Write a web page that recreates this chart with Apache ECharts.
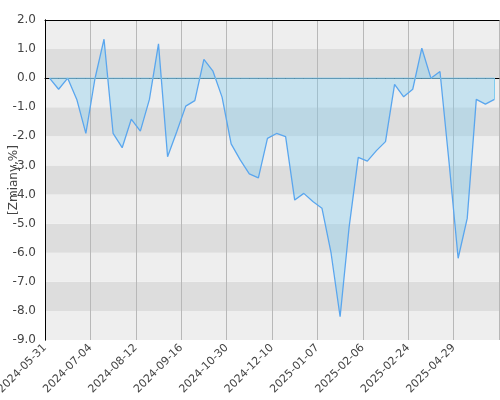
<!DOCTYPE html>
<html>
<head>
<meta charset="utf-8">
<script src="https://cdn.jsdelivr.net/npm/echarts@6/dist/echarts.min.js"></script>
<style>
  html, body { margin: 0; padding: 0; background: #fff; }
  #chart { width: 500px; height: 400px; }
</style>
</head>
<body>
<div id="chart"></div>
<script>
// daty notowań (oś X)
var dates = [
  '2024-05-31', '2024-06-07', '2024-06-14', '2024-06-21', '2024-06-28',
  '2024-07-04', '2024-07-12', '2024-07-19', '2024-07-26', '2024-08-02',
  '2024-08-12', '2024-08-19', '2024-08-26', '2024-09-02', '2024-09-09',
  '2024-09-16', '2024-09-23', '2024-09-30', '2024-10-14', '2024-10-21',
  '2024-10-30', '2024-11-08', '2024-11-15', '2024-11-22', '2024-11-29',
  '2024-12-10', '2024-12-13', '2024-12-20', '2024-12-27', '2025-01-03',
  '2025-01-07', '2025-01-10', '2025-01-17', '2025-01-24', '2025-01-31',
  '2025-02-06', '2025-02-10', '2025-02-13', '2025-02-17', '2025-02-20',
  '2025-02-24', '2025-03-07', '2025-03-21', '2025-04-04', '2025-04-18',
  '2025-04-29', '2025-05-09', '2025-05-16', '2025-05-23', '2025-05-30'
];
// zmiany w %
var changes = [
  0.0, -0.38, 0.0, -0.73, -1.90, -0.02, 1.34, -1.90, -2.39, -1.41,
  -1.82, -0.73, 1.18, -2.70, -1.85, -0.96, -0.77, 0.65, 0.24, -0.65,
  -2.26, -2.81, -3.29, -3.43, -2.07, -1.90, -2.01, -4.19, -3.96, -4.24,
  -4.47, -6.0, -8.2, -5.1, -2.72, -2.85, -2.49, -2.18, -0.21, -0.64,
  -0.38, 1.03, 0.0, 0.23, -2.9, -6.19, -4.82, -0.73, -0.89, -0.73
];
// linia zera
var zeroLine = changes.map(function () { return 0; });
// etykiety osi Y
var yMin = -9, yMax = 2, yStep = 1;
// co ile punktów etykieta na osi X
var labelStep = 5;

var blackLine = { show: true, lineStyle: { color: '#000', width: 1 } };
var lastIdx = dates.length - 1;

var chart = echarts.init(document.getElementById('chart'));
var option = {
  animation: false,
  textStyle: { fontFamily: 'DejaVu Sans' },
  grid: {
    left: 45, right: 1, top: 20, bottom: 60,
    containLabel: false,
    outerBoundsMode: 'none'
  },
  xAxis: [{
    // oś danych
    type: 'category',
    data: dates,
    boundaryGap: true,
    show: false
  }, {
    // oś etykiet i linii siatki
    type: 'value',
    min: 0,
    max: dates.length,
    interval: labelStep,
    position: 'bottom',
    axisLine: blackLine,
    axisTick: { show: false },
    splitLine: { show: true, lineStyle: { color: '#b8b8b8', width: 1 } },
    axisLabel: {
      rotate: 45,
      color: '#444',
      fontSize: 11,
      margin: 6,
      formatter: function (v) {
        return v < dates.length ? dates[v] : '';
      }
    }
  }, {
    // górna ramka
    type: 'value',
    min: 0,
    max: dates.length,
    position: 'top',
    axisLine: blackLine,
    axisTick: { show: false },
    axisLabel: { show: false },
    splitLine: { show: false }
  }],
  yAxis: [{
    type: 'value',
    min: yMin,
    max: yMax,
    interval: yStep,
    name: '[Zmiany,%]',
    nameLocation: 'middle',
    nameGap: 25,
    nameMoveOverlap: false,
    nameTextStyle: { color: '#444', fontSize: 12 },
    axisLine: blackLine,
    axisTick: { show: false },
    splitLine: { show: false },
    splitArea: { show: true, areaStyle: { color: ['#eeeeee', '#dddddd'] } },
    axisLabel: {
      color: '#444',
      fontSize: 12,
      margin: 9,
      formatter: function (v) { return v.toFixed(1); }
    }
  }, {
    // prawa ramka
    type: 'value',
    min: yMin,
    max: yMax,
    position: 'right',
    axisLine: blackLine,
    axisTick: { show: false },
    axisLabel: { show: false },
    splitLine: { show: false }
  }],
  series: [{
    name: 'Zmiany',
    type: 'line',
    xAxisIndex: 0,
    data: changes,
    symbol: 'none',
    lineStyle: { color: '#5aa6ee', width: 1.3 },
    areaStyle: { color: 'rgba(125,205,240,0.5)', origin: 0 },
    z: 4
  }, {
    name: 'zero',
    type: 'line',
    xAxisIndex: 0,
    data: zeroLine,
    symbol: 'none',
    silent: true,
    lineStyle: { color: '#80ccf0', width: 1 },
    // pionowa krawędź obszaru na końcu
    markLine: {
      silent: true,
      symbol: ['none', 'none'],
      label: { show: false },
      lineStyle: { color: '#80ccf0', width: 1, type: 'solid' },
      data: [[
        { coord: [dates[lastIdx], 0] },
        { coord: [dates[lastIdx], changes[lastIdx]] }
      ]]
    },
    z: 5
  }]
};
chart.setOption(option);
</script>
</body>
</html>
